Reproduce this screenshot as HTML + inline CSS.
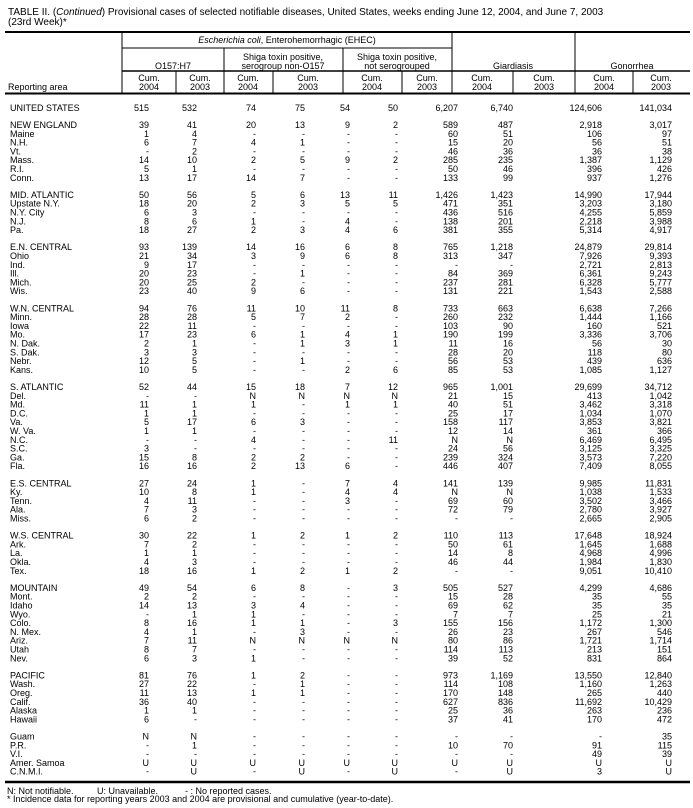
<!DOCTYPE html>
<html><head><meta charset="utf-8"><style>
html,body{margin:0;padding:0;background:#fff;}
svg{display:block;}
text{font-family:"Liberation Sans",Arial,sans-serif;font-size:9px;fill:#000;}
.t{font-size:10px;}
.n{text-anchor:end;}
.c{text-anchor:middle;}
</style></head><body>
<svg width="693" height="808" viewBox="0 0 693 808" xmlns="http://www.w3.org/2000/svg">
<text class="t" x="8" y="15">TABLE II. (<tspan font-style="italic">Continued</tspan>) Provisional cases of selected notifiable diseases, United States, weeks ending June 12, 2004, and June 7, 2003</text>
<text class="t" x="8" y="25">(23rd Week)*</text>
<g stroke="#000" fill="none">
<line x1="5" y1="32" x2="690" y2="32" stroke-width="2"/>
<line x1="122" y1="48" x2="452" y2="48" stroke-width="1"/>
<line x1="122" y1="71" x2="690" y2="71" stroke-width="1.5"/>
<line x1="5" y1="93.5" x2="690" y2="93.5" stroke-width="2"/>
<line x1="5" y1="782" x2="690" y2="782" stroke-width="2.5"/>
<line x1="122" y1="32" x2="122" y2="93"/>
<line x1="452" y1="32" x2="452" y2="93"/>
<line x1="575" y1="32" x2="575" y2="93"/>
<line x1="224" y1="48" x2="224" y2="93"/>
<line x1="343" y1="48" x2="343" y2="93"/>
<line x1="176" y1="71" x2="176" y2="93"/>
<line x1="273" y1="71" x2="273" y2="93"/>
<line x1="402" y1="71" x2="402" y2="93"/>
<line x1="513" y1="71" x2="513" y2="93"/>
<line x1="633" y1="71" x2="633" y2="93"/>
</g>
<text class="c" x="287" y="43"><tspan font-style="italic">Escherichia coli</tspan>, Enterohemorrhagic (EHEC)</text>
<text class="c" x="173" y="69">O157:H7</text>
<text class="c" x="283" y="60">Shiga toxin positive,</text>
<text class="c" x="283" y="69">serogroup non-O157</text>
<text class="c" x="397" y="60">Shiga toxin positive,</text>
<text class="c" x="397" y="69">not serogrouped</text>
<text class="c" x="513" y="69">Giardiasis</text>
<text class="c" x="632" y="69">Gonorrhea</text>
<text x="8" y="90">Reporting area</text>
<text class="c" y="81"><tspan x="149">Cum.</tspan><tspan x="200">Cum.</tspan><tspan x="248">Cum.</tspan><tspan x="308">Cum.</tspan><tspan x="372">Cum.</tspan><tspan x="427">Cum.</tspan><tspan x="482">Cum.</tspan><tspan x="544">Cum.</tspan><tspan x="604">Cum.</tspan><tspan x="661">Cum.</tspan></text>
<text class="c" y="90"><tspan x="149">2004</tspan><tspan x="200">2003</tspan><tspan x="248">2004</tspan><tspan x="308">2003</tspan><tspan x="372">2004</tspan><tspan x="427">2003</tspan><tspan x="482">2004</tspan><tspan x="544">2003</tspan><tspan x="604">2004</tspan><tspan x="661">2003</tspan></text>

<text x="10" y="111">UNITED STATES</text><text class="n" y="111"><tspan x="149">515</tspan><tspan x="197">532</tspan><tspan x="256">74</tspan><tspan x="305">75</tspan><tspan x="350">54</tspan><tspan x="398">50</tspan><tspan x="458">6,207</tspan><tspan x="513">6,740</tspan><tspan x="602">124,606</tspan><tspan x="672">141,034</tspan></text>

<text x="10" y="128">NEW ENGLAND</text><text class="n" y="128"><tspan x="149">39</tspan><tspan x="197">41</tspan><tspan x="256">20</tspan><tspan x="305">13</tspan><tspan x="350">9</tspan><tspan x="398">2</tspan><tspan x="458">589</tspan><tspan x="513">487</tspan><tspan x="602">2,918</tspan><tspan x="672">3,017</tspan></text>
<text x="10" y="136.8">Maine</text><text class="n" y="136.8"><tspan x="149">1</tspan><tspan x="197">4</tspan><tspan x="256">-</tspan><tspan x="305">-</tspan><tspan x="350">-</tspan><tspan x="398">-</tspan><tspan x="458">60</tspan><tspan x="513">51</tspan><tspan x="602">106</tspan><tspan x="672">97</tspan></text>
<text x="10" y="145.6">N.H.</text><text class="n" y="145.6"><tspan x="149">6</tspan><tspan x="197">7</tspan><tspan x="256">4</tspan><tspan x="305">1</tspan><tspan x="350">-</tspan><tspan x="398">-</tspan><tspan x="458">15</tspan><tspan x="513">20</tspan><tspan x="602">56</tspan><tspan x="672">51</tspan></text>
<text x="10" y="154.4">Vt.</text><text class="n" y="154.4"><tspan x="149">-</tspan><tspan x="197">2</tspan><tspan x="256">-</tspan><tspan x="305">-</tspan><tspan x="350">-</tspan><tspan x="398">-</tspan><tspan x="458">46</tspan><tspan x="513">36</tspan><tspan x="602">36</tspan><tspan x="672">38</tspan></text>
<text x="10" y="163.2">Mass.</text><text class="n" y="163.2"><tspan x="149">14</tspan><tspan x="197">10</tspan><tspan x="256">2</tspan><tspan x="305">5</tspan><tspan x="350">9</tspan><tspan x="398">2</tspan><tspan x="458">285</tspan><tspan x="513">235</tspan><tspan x="602">1,387</tspan><tspan x="672">1,129</tspan></text>
<text x="10" y="172">R.I.</text><text class="n" y="172"><tspan x="149">5</tspan><tspan x="197">1</tspan><tspan x="256">-</tspan><tspan x="305">-</tspan><tspan x="350">-</tspan><tspan x="398">-</tspan><tspan x="458">50</tspan><tspan x="513">46</tspan><tspan x="602">396</tspan><tspan x="672">426</tspan></text>
<text x="10" y="180.8">Conn.</text><text class="n" y="180.8"><tspan x="149">13</tspan><tspan x="197">17</tspan><tspan x="256">14</tspan><tspan x="305">7</tspan><tspan x="350">-</tspan><tspan x="398">-</tspan><tspan x="458">133</tspan><tspan x="513">99</tspan><tspan x="602">937</tspan><tspan x="672">1,276</tspan></text>

<text x="10" y="197.9">MID. ATLANTIC</text><text class="n" y="197.9"><tspan x="149">50</tspan><tspan x="197">56</tspan><tspan x="256">5</tspan><tspan x="305">6</tspan><tspan x="350">13</tspan><tspan x="398">11</tspan><tspan x="458">1,426</tspan><tspan x="513">1,423</tspan><tspan x="602">14,990</tspan><tspan x="672">17,944</tspan></text>
<text x="10" y="206.7">Upstate N.Y.</text><text class="n" y="206.7"><tspan x="149">18</tspan><tspan x="197">20</tspan><tspan x="256">2</tspan><tspan x="305">3</tspan><tspan x="350">5</tspan><tspan x="398">5</tspan><tspan x="458">471</tspan><tspan x="513">351</tspan><tspan x="602">3,203</tspan><tspan x="672">3,180</tspan></text>
<text x="10" y="215.5">N.Y. City</text><text class="n" y="215.5"><tspan x="149">6</tspan><tspan x="197">3</tspan><tspan x="256">-</tspan><tspan x="305">-</tspan><tspan x="350">-</tspan><tspan x="398">-</tspan><tspan x="458">436</tspan><tspan x="513">516</tspan><tspan x="602">4,255</tspan><tspan x="672">5,859</tspan></text>
<text x="10" y="224.3">N.J.</text><text class="n" y="224.3"><tspan x="149">8</tspan><tspan x="197">6</tspan><tspan x="256">1</tspan><tspan x="305">-</tspan><tspan x="350">4</tspan><tspan x="398">-</tspan><tspan x="458">138</tspan><tspan x="513">201</tspan><tspan x="602">2,218</tspan><tspan x="672">3,988</tspan></text>
<text x="10" y="233.1">Pa.</text><text class="n" y="233.1"><tspan x="149">18</tspan><tspan x="197">27</tspan><tspan x="256">2</tspan><tspan x="305">3</tspan><tspan x="350">4</tspan><tspan x="398">6</tspan><tspan x="458">381</tspan><tspan x="513">355</tspan><tspan x="602">5,314</tspan><tspan x="672">4,917</tspan></text>

<text x="10" y="250.2">E.N. CENTRAL</text><text class="n" y="250.2"><tspan x="149">93</tspan><tspan x="197">139</tspan><tspan x="256">14</tspan><tspan x="305">16</tspan><tspan x="350">6</tspan><tspan x="398">8</tspan><tspan x="458">765</tspan><tspan x="513">1,218</tspan><tspan x="602">24,879</tspan><tspan x="672">29,814</tspan></text>
<text x="10" y="259">Ohio</text><text class="n" y="259"><tspan x="149">21</tspan><tspan x="197">34</tspan><tspan x="256">3</tspan><tspan x="305">9</tspan><tspan x="350">6</tspan><tspan x="398">8</tspan><tspan x="458">313</tspan><tspan x="513">347</tspan><tspan x="602">7,926</tspan><tspan x="672">9,393</tspan></text>
<text x="10" y="267.8">Ind.</text><text class="n" y="267.8"><tspan x="149">9</tspan><tspan x="197">17</tspan><tspan x="256">-</tspan><tspan x="305">-</tspan><tspan x="350">-</tspan><tspan x="398">-</tspan><tspan x="458">-</tspan><tspan x="513">-</tspan><tspan x="602">2,721</tspan><tspan x="672">2,813</tspan></text>
<text x="10" y="276.6">Ill.</text><text class="n" y="276.6"><tspan x="149">20</tspan><tspan x="197">23</tspan><tspan x="256">-</tspan><tspan x="305">1</tspan><tspan x="350">-</tspan><tspan x="398">-</tspan><tspan x="458">84</tspan><tspan x="513">369</tspan><tspan x="602">6,361</tspan><tspan x="672">9,243</tspan></text>
<text x="10" y="285.4">Mich.</text><text class="n" y="285.4"><tspan x="149">20</tspan><tspan x="197">25</tspan><tspan x="256">2</tspan><tspan x="305">-</tspan><tspan x="350">-</tspan><tspan x="398">-</tspan><tspan x="458">237</tspan><tspan x="513">281</tspan><tspan x="602">6,328</tspan><tspan x="672">5,777</tspan></text>
<text x="10" y="294.2">Wis.</text><text class="n" y="294.2"><tspan x="149">23</tspan><tspan x="197">40</tspan><tspan x="256">9</tspan><tspan x="305">6</tspan><tspan x="350">-</tspan><tspan x="398">-</tspan><tspan x="458">131</tspan><tspan x="513">221</tspan><tspan x="602">1,543</tspan><tspan x="672">2,588</tspan></text>

<text x="10" y="311.3">W.N. CENTRAL</text><text class="n" y="311.3"><tspan x="149">94</tspan><tspan x="197">76</tspan><tspan x="256">11</tspan><tspan x="305">10</tspan><tspan x="350">11</tspan><tspan x="398">8</tspan><tspan x="458">733</tspan><tspan x="513">663</tspan><tspan x="602">6,638</tspan><tspan x="672">7,266</tspan></text>
<text x="10" y="320.1">Minn.</text><text class="n" y="320.1"><tspan x="149">28</tspan><tspan x="197">28</tspan><tspan x="256">5</tspan><tspan x="305">7</tspan><tspan x="350">2</tspan><tspan x="398">-</tspan><tspan x="458">260</tspan><tspan x="513">232</tspan><tspan x="602">1,444</tspan><tspan x="672">1,166</tspan></text>
<text x="10" y="328.9">Iowa</text><text class="n" y="328.9"><tspan x="149">22</tspan><tspan x="197">11</tspan><tspan x="256">-</tspan><tspan x="305">-</tspan><tspan x="350">-</tspan><tspan x="398">-</tspan><tspan x="458">103</tspan><tspan x="513">90</tspan><tspan x="602">160</tspan><tspan x="672">521</tspan></text>
<text x="10" y="337.7">Mo.</text><text class="n" y="337.7"><tspan x="149">17</tspan><tspan x="197">23</tspan><tspan x="256">6</tspan><tspan x="305">1</tspan><tspan x="350">4</tspan><tspan x="398">1</tspan><tspan x="458">190</tspan><tspan x="513">199</tspan><tspan x="602">3,336</tspan><tspan x="672">3,706</tspan></text>
<text x="10" y="346.5">N. Dak.</text><text class="n" y="346.5"><tspan x="149">2</tspan><tspan x="197">1</tspan><tspan x="256">-</tspan><tspan x="305">1</tspan><tspan x="350">3</tspan><tspan x="398">1</tspan><tspan x="458">11</tspan><tspan x="513">16</tspan><tspan x="602">56</tspan><tspan x="672">30</tspan></text>
<text x="10" y="355.3">S. Dak.</text><text class="n" y="355.3"><tspan x="149">3</tspan><tspan x="197">3</tspan><tspan x="256">-</tspan><tspan x="305">-</tspan><tspan x="350">-</tspan><tspan x="398">-</tspan><tspan x="458">28</tspan><tspan x="513">20</tspan><tspan x="602">118</tspan><tspan x="672">80</tspan></text>
<text x="10" y="364.1">Nebr.</text><text class="n" y="364.1"><tspan x="149">12</tspan><tspan x="197">5</tspan><tspan x="256">-</tspan><tspan x="305">1</tspan><tspan x="350">-</tspan><tspan x="398">-</tspan><tspan x="458">56</tspan><tspan x="513">53</tspan><tspan x="602">439</tspan><tspan x="672">636</tspan></text>
<text x="10" y="372.9">Kans.</text><text class="n" y="372.9"><tspan x="149">10</tspan><tspan x="197">5</tspan><tspan x="256">-</tspan><tspan x="305">-</tspan><tspan x="350">2</tspan><tspan x="398">6</tspan><tspan x="458">85</tspan><tspan x="513">53</tspan><tspan x="602">1,085</tspan><tspan x="672">1,127</tspan></text>

<text x="10" y="390">S. ATLANTIC</text><text class="n" y="390"><tspan x="149">52</tspan><tspan x="197">44</tspan><tspan x="256">15</tspan><tspan x="305">18</tspan><tspan x="350">7</tspan><tspan x="398">12</tspan><tspan x="458">965</tspan><tspan x="513">1,001</tspan><tspan x="602">29,699</tspan><tspan x="672">34,712</tspan></text>
<text x="10" y="398.8">Del.</text><text class="n" y="398.8"><tspan x="149">-</tspan><tspan x="197">-</tspan><tspan x="256">N</tspan><tspan x="305">N</tspan><tspan x="350">N</tspan><tspan x="398">N</tspan><tspan x="458">21</tspan><tspan x="513">15</tspan><tspan x="602">413</tspan><tspan x="672">1,042</tspan></text>
<text x="10" y="407.6">Md.</text><text class="n" y="407.6"><tspan x="149">11</tspan><tspan x="197">1</tspan><tspan x="256">1</tspan><tspan x="305">-</tspan><tspan x="350">1</tspan><tspan x="398">1</tspan><tspan x="458">40</tspan><tspan x="513">51</tspan><tspan x="602">3,462</tspan><tspan x="672">3,318</tspan></text>
<text x="10" y="416.4">D.C.</text><text class="n" y="416.4"><tspan x="149">1</tspan><tspan x="197">1</tspan><tspan x="256">-</tspan><tspan x="305">-</tspan><tspan x="350">-</tspan><tspan x="398">-</tspan><tspan x="458">25</tspan><tspan x="513">17</tspan><tspan x="602">1,034</tspan><tspan x="672">1,070</tspan></text>
<text x="10" y="425.2">Va.</text><text class="n" y="425.2"><tspan x="149">5</tspan><tspan x="197">17</tspan><tspan x="256">6</tspan><tspan x="305">3</tspan><tspan x="350">-</tspan><tspan x="398">-</tspan><tspan x="458">158</tspan><tspan x="513">117</tspan><tspan x="602">3,853</tspan><tspan x="672">3,821</tspan></text>
<text x="10" y="434">W. Va.</text><text class="n" y="434"><tspan x="149">1</tspan><tspan x="197">1</tspan><tspan x="256">-</tspan><tspan x="305">-</tspan><tspan x="350">-</tspan><tspan x="398">-</tspan><tspan x="458">12</tspan><tspan x="513">14</tspan><tspan x="602">361</tspan><tspan x="672">366</tspan></text>
<text x="10" y="442.8">N.C.</text><text class="n" y="442.8"><tspan x="149">-</tspan><tspan x="197">-</tspan><tspan x="256">4</tspan><tspan x="305">-</tspan><tspan x="350">-</tspan><tspan x="398">11</tspan><tspan x="458">N</tspan><tspan x="513">N</tspan><tspan x="602">6,469</tspan><tspan x="672">6,495</tspan></text>
<text x="10" y="451.6">S.C.</text><text class="n" y="451.6"><tspan x="149">3</tspan><tspan x="197">-</tspan><tspan x="256">-</tspan><tspan x="305">-</tspan><tspan x="350">-</tspan><tspan x="398">-</tspan><tspan x="458">24</tspan><tspan x="513">56</tspan><tspan x="602">3,125</tspan><tspan x="672">3,325</tspan></text>
<text x="10" y="460.4">Ga.</text><text class="n" y="460.4"><tspan x="149">15</tspan><tspan x="197">8</tspan><tspan x="256">2</tspan><tspan x="305">2</tspan><tspan x="350">-</tspan><tspan x="398">-</tspan><tspan x="458">239</tspan><tspan x="513">324</tspan><tspan x="602">3,573</tspan><tspan x="672">7,220</tspan></text>
<text x="10" y="469.2">Fla.</text><text class="n" y="469.2"><tspan x="149">16</tspan><tspan x="197">16</tspan><tspan x="256">2</tspan><tspan x="305">13</tspan><tspan x="350">6</tspan><tspan x="398">-</tspan><tspan x="458">446</tspan><tspan x="513">407</tspan><tspan x="602">7,409</tspan><tspan x="672">8,055</tspan></text>

<text x="10" y="486.3">E.S. CENTRAL</text><text class="n" y="486.3"><tspan x="149">27</tspan><tspan x="197">24</tspan><tspan x="256">1</tspan><tspan x="305">-</tspan><tspan x="350">7</tspan><tspan x="398">4</tspan><tspan x="458">141</tspan><tspan x="513">139</tspan><tspan x="602">9,985</tspan><tspan x="672">11,831</tspan></text>
<text x="10" y="495.1">Ky.</text><text class="n" y="495.1"><tspan x="149">10</tspan><tspan x="197">8</tspan><tspan x="256">1</tspan><tspan x="305">-</tspan><tspan x="350">4</tspan><tspan x="398">4</tspan><tspan x="458">N</tspan><tspan x="513">N</tspan><tspan x="602">1,038</tspan><tspan x="672">1,533</tspan></text>
<text x="10" y="503.9">Tenn.</text><text class="n" y="503.9"><tspan x="149">4</tspan><tspan x="197">11</tspan><tspan x="256">-</tspan><tspan x="305">-</tspan><tspan x="350">3</tspan><tspan x="398">-</tspan><tspan x="458">69</tspan><tspan x="513">60</tspan><tspan x="602">3,502</tspan><tspan x="672">3,466</tspan></text>
<text x="10" y="512.7">Ala.</text><text class="n" y="512.7"><tspan x="149">7</tspan><tspan x="197">3</tspan><tspan x="256">-</tspan><tspan x="305">-</tspan><tspan x="350">-</tspan><tspan x="398">-</tspan><tspan x="458">72</tspan><tspan x="513">79</tspan><tspan x="602">2,780</tspan><tspan x="672">3,927</tspan></text>
<text x="10" y="521.5">Miss.</text><text class="n" y="521.5"><tspan x="149">6</tspan><tspan x="197">2</tspan><tspan x="256">-</tspan><tspan x="305">-</tspan><tspan x="350">-</tspan><tspan x="398">-</tspan><tspan x="458">-</tspan><tspan x="513">-</tspan><tspan x="602">2,665</tspan><tspan x="672">2,905</tspan></text>

<text x="10" y="538.6">W.S. CENTRAL</text><text class="n" y="538.6"><tspan x="149">30</tspan><tspan x="197">22</tspan><tspan x="256">1</tspan><tspan x="305">2</tspan><tspan x="350">1</tspan><tspan x="398">2</tspan><tspan x="458">110</tspan><tspan x="513">113</tspan><tspan x="602">17,648</tspan><tspan x="672">18,924</tspan></text>
<text x="10" y="547.4">Ark.</text><text class="n" y="547.4"><tspan x="149">7</tspan><tspan x="197">2</tspan><tspan x="256">-</tspan><tspan x="305">-</tspan><tspan x="350">-</tspan><tspan x="398">-</tspan><tspan x="458">50</tspan><tspan x="513">61</tspan><tspan x="602">1,645</tspan><tspan x="672">1,688</tspan></text>
<text x="10" y="556.2">La.</text><text class="n" y="556.2"><tspan x="149">1</tspan><tspan x="197">1</tspan><tspan x="256">-</tspan><tspan x="305">-</tspan><tspan x="350">-</tspan><tspan x="398">-</tspan><tspan x="458">14</tspan><tspan x="513">8</tspan><tspan x="602">4,968</tspan><tspan x="672">4,996</tspan></text>
<text x="10" y="565">Okla.</text><text class="n" y="565"><tspan x="149">4</tspan><tspan x="197">3</tspan><tspan x="256">-</tspan><tspan x="305">-</tspan><tspan x="350">-</tspan><tspan x="398">-</tspan><tspan x="458">46</tspan><tspan x="513">44</tspan><tspan x="602">1,984</tspan><tspan x="672">1,830</tspan></text>
<text x="10" y="573.8">Tex.</text><text class="n" y="573.8"><tspan x="149">18</tspan><tspan x="197">16</tspan><tspan x="256">1</tspan><tspan x="305">2</tspan><tspan x="350">1</tspan><tspan x="398">2</tspan><tspan x="458">-</tspan><tspan x="513">-</tspan><tspan x="602">9,051</tspan><tspan x="672">10,410</tspan></text>

<text x="10" y="590.9">MOUNTAIN</text><text class="n" y="590.9"><tspan x="149">49</tspan><tspan x="197">54</tspan><tspan x="256">6</tspan><tspan x="305">8</tspan><tspan x="350">-</tspan><tspan x="398">3</tspan><tspan x="458">505</tspan><tspan x="513">527</tspan><tspan x="602">4,299</tspan><tspan x="672">4,686</tspan></text>
<text x="10" y="599.7">Mont.</text><text class="n" y="599.7"><tspan x="149">2</tspan><tspan x="197">2</tspan><tspan x="256">-</tspan><tspan x="305">-</tspan><tspan x="350">-</tspan><tspan x="398">-</tspan><tspan x="458">15</tspan><tspan x="513">28</tspan><tspan x="602">35</tspan><tspan x="672">55</tspan></text>
<text x="10" y="608.5">Idaho</text><text class="n" y="608.5"><tspan x="149">14</tspan><tspan x="197">13</tspan><tspan x="256">3</tspan><tspan x="305">4</tspan><tspan x="350">-</tspan><tspan x="398">-</tspan><tspan x="458">69</tspan><tspan x="513">62</tspan><tspan x="602">35</tspan><tspan x="672">35</tspan></text>
<text x="10" y="617.3">Wyo.</text><text class="n" y="617.3"><tspan x="149">-</tspan><tspan x="197">1</tspan><tspan x="256">1</tspan><tspan x="305">-</tspan><tspan x="350">-</tspan><tspan x="398">-</tspan><tspan x="458">7</tspan><tspan x="513">7</tspan><tspan x="602">25</tspan><tspan x="672">21</tspan></text>
<text x="10" y="626.1">Colo.</text><text class="n" y="626.1"><tspan x="149">8</tspan><tspan x="197">16</tspan><tspan x="256">1</tspan><tspan x="305">1</tspan><tspan x="350">-</tspan><tspan x="398">3</tspan><tspan x="458">155</tspan><tspan x="513">156</tspan><tspan x="602">1,172</tspan><tspan x="672">1,300</tspan></text>
<text x="10" y="634.9">N. Mex.</text><text class="n" y="634.9"><tspan x="149">4</tspan><tspan x="197">1</tspan><tspan x="256">-</tspan><tspan x="305">3</tspan><tspan x="350">-</tspan><tspan x="398">-</tspan><tspan x="458">26</tspan><tspan x="513">23</tspan><tspan x="602">267</tspan><tspan x="672">546</tspan></text>
<text x="10" y="643.7">Ariz.</text><text class="n" y="643.7"><tspan x="149">7</tspan><tspan x="197">11</tspan><tspan x="256">N</tspan><tspan x="305">N</tspan><tspan x="350">N</tspan><tspan x="398">N</tspan><tspan x="458">80</tspan><tspan x="513">86</tspan><tspan x="602">1,721</tspan><tspan x="672">1,714</tspan></text>
<text x="10" y="652.5">Utah</text><text class="n" y="652.5"><tspan x="149">8</tspan><tspan x="197">7</tspan><tspan x="256">-</tspan><tspan x="305">-</tspan><tspan x="350">-</tspan><tspan x="398">-</tspan><tspan x="458">114</tspan><tspan x="513">113</tspan><tspan x="602">213</tspan><tspan x="672">151</tspan></text>
<text x="10" y="661.3">Nev.</text><text class="n" y="661.3"><tspan x="149">6</tspan><tspan x="197">3</tspan><tspan x="256">1</tspan><tspan x="305">-</tspan><tspan x="350">-</tspan><tspan x="398">-</tspan><tspan x="458">39</tspan><tspan x="513">52</tspan><tspan x="602">831</tspan><tspan x="672">864</tspan></text>

<text x="10" y="678.4">PACIFIC</text><text class="n" y="678.4"><tspan x="149">81</tspan><tspan x="197">76</tspan><tspan x="256">1</tspan><tspan x="305">2</tspan><tspan x="350">-</tspan><tspan x="398">-</tspan><tspan x="458">973</tspan><tspan x="513">1,169</tspan><tspan x="602">13,550</tspan><tspan x="672">12,840</tspan></text>
<text x="10" y="687.2">Wash.</text><text class="n" y="687.2"><tspan x="149">27</tspan><tspan x="197">22</tspan><tspan x="256">-</tspan><tspan x="305">1</tspan><tspan x="350">-</tspan><tspan x="398">-</tspan><tspan x="458">114</tspan><tspan x="513">108</tspan><tspan x="602">1,160</tspan><tspan x="672">1,263</tspan></text>
<text x="10" y="696">Oreg.</text><text class="n" y="696"><tspan x="149">11</tspan><tspan x="197">13</tspan><tspan x="256">1</tspan><tspan x="305">1</tspan><tspan x="350">-</tspan><tspan x="398">-</tspan><tspan x="458">170</tspan><tspan x="513">148</tspan><tspan x="602">265</tspan><tspan x="672">440</tspan></text>
<text x="10" y="704.8">Calif.</text><text class="n" y="704.8"><tspan x="149">36</tspan><tspan x="197">40</tspan><tspan x="256">-</tspan><tspan x="305">-</tspan><tspan x="350">-</tspan><tspan x="398">-</tspan><tspan x="458">627</tspan><tspan x="513">836</tspan><tspan x="602">11,692</tspan><tspan x="672">10,429</tspan></text>
<text x="10" y="713.6">Alaska</text><text class="n" y="713.6"><tspan x="149">1</tspan><tspan x="197">1</tspan><tspan x="256">-</tspan><tspan x="305">-</tspan><tspan x="350">-</tspan><tspan x="398">-</tspan><tspan x="458">25</tspan><tspan x="513">36</tspan><tspan x="602">263</tspan><tspan x="672">236</tspan></text>
<text x="10" y="722.4">Hawaii</text><text class="n" y="722.4"><tspan x="149">6</tspan><tspan x="197">-</tspan><tspan x="256">-</tspan><tspan x="305">-</tspan><tspan x="350">-</tspan><tspan x="398">-</tspan><tspan x="458">37</tspan><tspan x="513">41</tspan><tspan x="602">170</tspan><tspan x="672">472</tspan></text>

<text x="10" y="739.5">Guam</text><text class="n" y="739.5"><tspan x="149">N</tspan><tspan x="197">N</tspan><tspan x="256">-</tspan><tspan x="305">-</tspan><tspan x="350">-</tspan><tspan x="398">-</tspan><tspan x="458">-</tspan><tspan x="513">-</tspan><tspan x="602">-</tspan><tspan x="672">35</tspan></text>
<text x="10" y="748.3">P.R.</text><text class="n" y="748.3"><tspan x="149">-</tspan><tspan x="197">1</tspan><tspan x="256">-</tspan><tspan x="305">-</tspan><tspan x="350">-</tspan><tspan x="398">-</tspan><tspan x="458">10</tspan><tspan x="513">70</tspan><tspan x="602">91</tspan><tspan x="672">115</tspan></text>
<text x="10" y="757.1">V.I.</text><text class="n" y="757.1"><tspan x="149">-</tspan><tspan x="197">-</tspan><tspan x="256">-</tspan><tspan x="305">-</tspan><tspan x="350">-</tspan><tspan x="398">-</tspan><tspan x="458">-</tspan><tspan x="513">-</tspan><tspan x="602">49</tspan><tspan x="672">39</tspan></text>
<text x="10" y="765.9">Amer. Samoa</text><text class="n" y="765.9"><tspan x="149">U</tspan><tspan x="197">U</tspan><tspan x="256">U</tspan><tspan x="305">U</tspan><tspan x="350">U</tspan><tspan x="398">U</tspan><tspan x="458">U</tspan><tspan x="513">U</tspan><tspan x="602">U</tspan><tspan x="672">U</tspan></text>
<text x="10" y="774.7">C.N.M.I.</text><text class="n" y="774.7"><tspan x="149">-</tspan><tspan x="197">U</tspan><tspan x="256">-</tspan><tspan x="305">U</tspan><tspan x="350">-</tspan><tspan x="398">U</tspan><tspan x="458">-</tspan><tspan x="513">U</tspan><tspan x="602">3</tspan><tspan x="672">U</tspan></text>

<text x="7" y="794">N: Not notifiable.</text>
<text x="97" y="794">U: Unavailable.</text>
<text x="185" y="794">- : No reported cases.</text>
<text x="7" y="802">* Incidence data for reporting years 2003 and 2004 are provisional and cumulative (year-to-date).</text>
</svg>
</body></html>
